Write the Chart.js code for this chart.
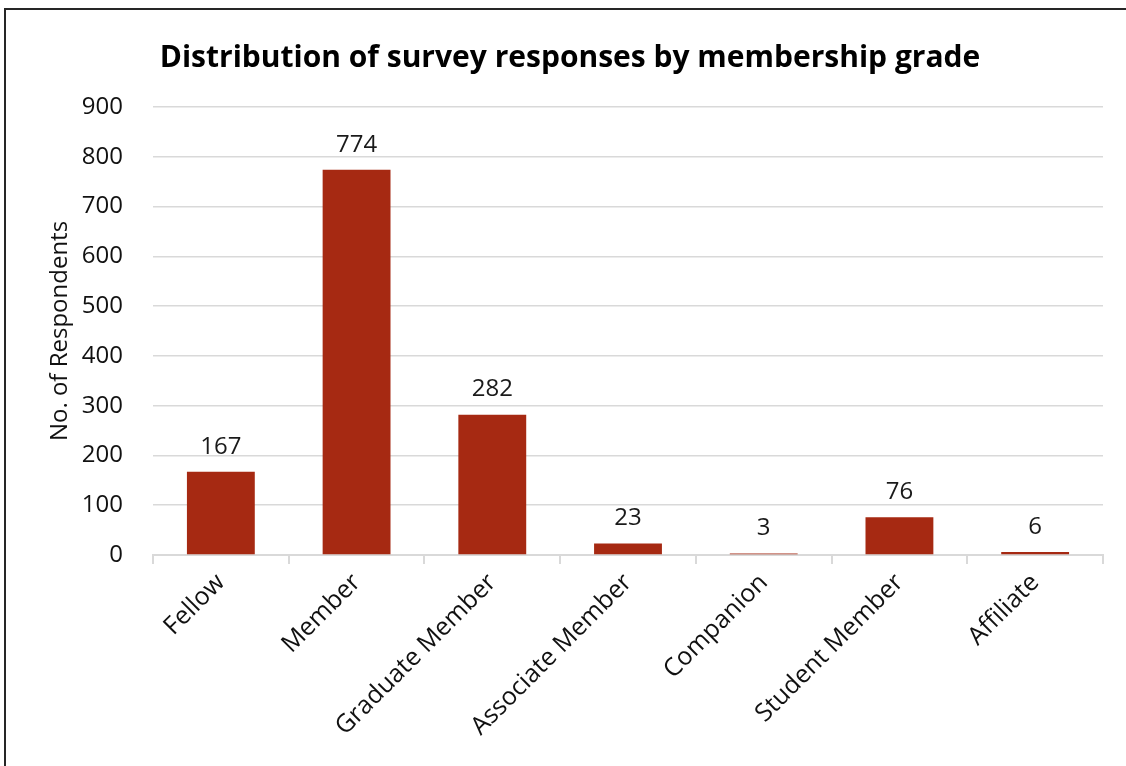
<!DOCTYPE html>
<html>
<head>
<meta charset="utf-8">
<script src="https://cdn.jsdelivr.net/npm/chart.js@4/dist/chart.umd.min.js"></script>
<style>
    html, body { margin: 0; padding: 0; background: #fff; overflow: hidden; }
    #wrap { position: relative; width: 1126px; height: 766px; }
    #frame { position: absolute; left: 4px; top: 8px; width: 1200px; height: 900px; border: 2px solid #262626; box-sizing: border-box; }
    #chartBox { position: absolute; left: 0; top: 0; width: 1126px; height: 766px; }
</style>
</head>
<body>
<div id="wrap">
    <div id="frame"></div>
    <div id="chartBox"><canvas id="gradeChart"></canvas></div>
</div>
<script>
const grades = ['Fellow', 'Member', 'Graduate Member', 'Associate Member', 'Companion', 'Student Member', 'Affiliate'];
const respondents = [167, 774, 282, 23, 3, 76, 6];
const yTicks = [0, 100, 200, 300, 400, 500, 600, 700, 800, 900];

const FONT = '"Open Sans", "Noto Sans", sans-serif';

// draws the number above each bar
const valueLabels = {
    id: 'valueLabels',
    afterDatasetsDraw(chart) {
        const ctx = chart.ctx;
        const meta = chart.getDatasetMeta(0);
        ctx.save();
        ctx.font = '24px ' + FONT;
        ctx.fillStyle = '#1a1a1a';
        ctx.textAlign = 'center';
        ctx.textBaseline = 'bottom';
        meta.data.forEach((bar, i) => {
            ctx.fillText(String(respondents[i]), bar.x, bar.y - 13);
        });
        ctx.restore();
    }
};

const ctx = document.getElementById('gradeChart');

new Chart(ctx, {
    type: 'bar',
    data: {
        labels: grades,
        datasets: [{
            label: 'No. of Respondents',
            data: respondents,
            backgroundColor: '#A62912',
            barPercentage: 0.5,
            categoryPercentage: 1.0
        }]
    },
    options: {
        responsive: true,
        maintainAspectRatio: false,
        animation: false,
        layout: { padding: { left: 37, right: 23, top: 0, bottom: 0 } },
        plugins: {
            legend: { display: false },
            tooltip: { enabled: false },
            title: {
                display: true,
                text: 'Distribution of survey responses by membership grade',
                color: '#000',
                font: { family: FONT, size: 30, weight: 'bold', lineHeight: 1.2 },
                padding: { top: 40, bottom: 31 }
            }
        },
        scales: {
            x: {
                grid: {
                    display: true,
                    drawOnChartArea: false,
                    drawTicks: true,
                    tickLength: 9,
                    color: '#d9d9d9',
                    lineWidth: 2
                },
                border: { display: true, color: '#d9d9d9', width: 2 },
                ticks: {
                    color: '#111',
                    font: { family: FONT, size: 25 },
                    minRotation: 45,
                    maxRotation: 45,
                    padding: 4
                },
                afterFit(scale) { scale.height = 211; }
            },
            y: {
                min: 0,
                max: 900,
                afterBuildTicks(scale) {
                    scale.ticks = yTicks.map(v => ({ value: v }));
                },
                grid: { color: '#d9d9d9', lineWidth: 1.5, drawTicks: false },
                border: { display: false },
                ticks: {
                    color: '#111',
                    font: { family: FONT, size: 24 },
                    padding: 30
                },
                title: {
                    display: true,
                    text: 'No. of Respondents',
                    color: '#111',
                    font: { family: FONT, size: 24, lineHeight: 1.2 },
                    padding: { top: 9, bottom: 0 }
                },
                afterFit(scale) { scale.width = 116; }
            }
        }
    },
    plugins: [valueLabels]
});
</script>
</body>
</html>
